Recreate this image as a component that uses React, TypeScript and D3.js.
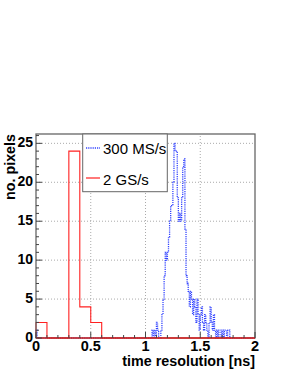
import React from "react";
import * as d3 from "d3";

// Red histogram (2 GS/s): bins of 0.1 ns from 0 to 2
const redBinWidth = 0.1;
const redCounts = [2, 0, 0, 24, 4, 2, 0, 0, 0, 0, 0, 0, 0, 0, 0, 0, 0, 0, 0, 0];

// Blue histogram (300 MS/s): bins of 0.01 ns
const blueBinWidth = 0.01;
const blueLowStart = 0.0;
const blueLowCounts = [1];
const blueStart = 1.05;
const blueCounts = [
  0, 1, 0, 1, 0, 2, 1, 0, 0, 1, // 1.05-1.14
  3, 5, 8, 11, 10, 11, 13, 15, 17, 17, // 1.15-1.24
  20, 25, 24, 24, 18, 15, 16, 15, 18, 22, // 1.25-1.34
  23, 14, 8, 7, 6, 4, 6, 5, 3, 5, // 1.35-1.44
  4, 2, 5, 3, 1, 3, 4, 2, 1, 3, // 1.45-1.54
  2, 1, 0, 2, 4, 2, 1, 3, 1, 0, // 1.55-1.64
  1, 0, 1, 1, 0, 1, 0, 1, 1, 0, // 1.65-1.74
  1, 1, 0, // 1.75-1.77
];

const xTicks = [0, 0.5, 1, 1.5, 2];
const xTickLabels = ["0", "0.5", "1", "1.5", "2"];
const yTicks = [0, 5, 10, 15, 20, 25];
const legendLabels = ["300 MS/s", "2 GS/s"];

export default function App() {
  const W = 295, H = 382;
  const x = d3.scaleLinear().domain([0, 2]).range([36, 255]);
  const y = d3.scaleLinear().domain([0, 26.2]).range([338, 134]);

  const line = d3
    .line<[number, number]>()
    .x((d) => x(d[0]))
    .y((d) => y(d[1]))
    .curve(d3.curveStepAfter);

  const redPts: [number, number][] = [[0, 0]];
  redCounts.forEach((c, i) => redPts.push([i * redBinWidth, c]));
  redPts.push([2, 0]);

  const bluePts: [number, number][] = [[0, 0]];
  blueLowCounts.forEach((c, i) => bluePts.push([blueLowStart + i * blueBinWidth, c]));
  bluePts.push([blueLowStart + blueLowCounts.length * blueBinWidth, 0]);
  blueCounts.forEach((c, i) => bluePts.push([blueStart + i * blueBinWidth, c]));
  bluePts.push([blueStart + blueCounts.length * blueBinWidth, 0]);
  bluePts.push([2, 0]);

  const xMinor = d3.range(0, 2.0001, 0.1);
  const yMinor = d3.range(0, 26.01, 1);
  const font = "'Liberation Sans', Arial, Helvetica, sans-serif";
  const [x0, x1] = x.range();
  const [yb, yt] = y.range();

  return (
    <svg width={W} height={H} style={{ position: "absolute", left: 0, top: 0 }}>
      <rect width={W} height={H} fill="#fff" />
      {xTicks.slice(1, -1).map((t) => (
        <line key={"gx" + t} x1={x(t)} x2={x(t)} y1={yb} y2={yt} stroke="#aaa" strokeWidth={1} strokeDasharray="1 2" />
      ))}
      {yTicks.slice(1).map((t) => (
        <line key={"gy" + t} x1={x0} x2={x1} y1={y(t)} y2={y(t)} stroke="#aaa" strokeWidth={1} strokeDasharray="1 2" />
      ))}
      <path d={line(bluePts) || ""} fill="none" stroke="#3344ff" strokeWidth={1.3} strokeDasharray="1.2 1" />
      <path d={line(redPts) || ""} fill="none" stroke="#ff2020" strokeWidth={1.1} />
      <rect x={x0} y={yt} width={x1 - x0} height={yb - yt} fill="none" stroke="#666" strokeWidth={1.3} />
      <line x1={x0} x2={x1} y1={yb} y2={yb} stroke="#ff0000" strokeWidth={1.1} />
      {xMinor.map((t, i) => (
        <line key={"xm" + i} x1={x(t)} x2={x(t)} y1={yb} y2={yb - (i % 5 === 0 ? 6 : 3)} stroke="#444" strokeWidth={1} />
      ))}
      {yMinor.map((t, i) => (
        <line key={"ym" + i} x1={x0} x2={x0 + (i % 5 === 0 ? 6 : 3)} y1={y(t)} y2={y(t)} stroke="#444" strokeWidth={1} />
      ))}
      {xTicks.map((t, i) => (
        <text key={"xl" + t} x={x(t)} y={351} textAnchor="middle" fontFamily={font} fontWeight="bold" fontSize={14.5}>
          {xTickLabels[i]}
        </text>
      ))}
      {yTicks.map((t) => (
        <text key={"yl" + t} x={33} y={y(t) - 1} textAnchor="end" dominantBaseline="central" fontFamily={font} fontWeight="bold" fontSize={14}>
          {t}
        </text>
      ))}
      <text x={x1} y={366} textAnchor="end" fontFamily={font} fontWeight="bold" fontSize={14.3}>
        time resolution [ns]
      </text>
      <text transform={`translate(15,${yt}) rotate(-90)`} textAnchor="end" fontFamily={font} fontWeight="bold" fontSize={14.3}>
        no. pixels
      </text>
      <rect x={82.7} y={yt} width={84.6} height={57.7} fill="#fff" stroke="#666" strokeWidth={1} />
      <line x1={86} x2={100} y1={148} y2={148} stroke="#3344ff" strokeWidth={1.3} strokeDasharray="1.2 1" />
      <text x={103} y={153.5} fontFamily={font} fontSize={15}>{legendLabels[0]}</text>
      <line x1={86} x2={100} y1={178} y2={178} stroke="#ff2020" strokeWidth={1.2} />
      <text x={103} y={185} fontFamily={font} fontSize={15}>{legendLabels[1]}</text>
    </svg>
  );
}
